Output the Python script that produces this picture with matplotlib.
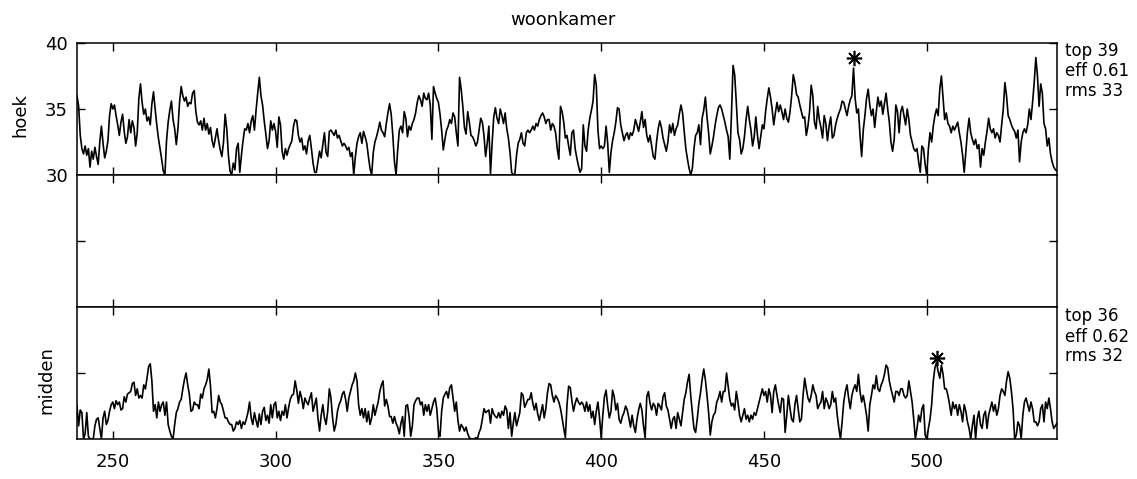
import matplotlib
matplotlib.use('Agg')
import matplotlib.pyplot as plt
import numpy as np

plt.rcParams['font.family'] = ['DejaVu Sans']

# ---------------- data ----------------
t_start = 239.0   # first sample position
t_step = 0.5      # sample spacing

hoek = [
    36.0, 35.2, 33.0, 32.0, 31.6, 32.2, 31.5, 32.0, 30.6, 31.8,
    31.2, 32.1, 31.4, 30.8, 32.5, 33.7, 32.4, 31.3, 31.8, 32.6,
    34.5, 35.4, 35.0, 35.3, 34.5, 33.8, 33.0, 34.0, 34.6, 33.3,
    32.4, 32.9, 34.2, 33.2, 34.1, 33.6, 32.2, 33.2, 35.8, 36.9,
    35.5, 34.6, 35.0, 34.1, 34.4, 33.8, 35.4, 36.3, 35.0, 33.8,
    32.8, 32.0, 31.2, 30.3, 30.0, 32.6, 34.0, 34.9, 35.6, 34.2,
    33.5, 32.3, 33.5, 35.5, 36.7, 36.0, 35.6, 35.9, 35.2, 35.5,
    35.4, 36.2, 36.4, 34.8, 34.0, 33.8, 34.1, 33.4, 34.3, 33.4,
    33.9, 33.1, 33.6, 32.6, 32.1, 32.8, 33.5, 32.6, 31.9, 31.4,
    32.5, 34.6, 33.5, 31.5, 30.3, 30.0, 30.9, 30.4, 32.0, 32.4,
    30.2, 31.5, 32.6, 33.5, 33.4, 33.9, 33.2, 34.1, 34.5, 33.4,
    34.9, 36.2, 37.4, 36.0, 35.3, 34.1, 33.1, 32.0, 32.6, 34.1,
    33.4, 33.9, 33.3, 32.1, 34.4, 33.8, 31.8, 31.2, 32.0, 31.5,
    32.0, 32.3, 32.6, 33.7, 34.2, 34.1, 33.0, 32.5, 32.8, 31.9,
    32.2, 31.6, 32.6, 33.0, 32.0, 30.9, 30.2, 30.2, 31.0, 31.8,
    31.3, 32.3, 33.2,
    31.7,
    31.4, 33.3, 33.4, 33.2, 33.0, 33.4, 32.8, 33.0, 32.6, 32.2,
    32.4, 32.2, 31.9, 32.1, 31.4, 31.7, 30.0, 31.4, 32.4, 32.9,
    33.2, 32.4, 33.3, 32.9, 32.4, 31.4, 30.5, 30.0, 31.7, 32.5,
    32.9, 33.4, 34.0, 33.4, 33.2, 32.9, 33.9, 34.7, 35.4, 34.6,
    33.0, 31.0, 30.0, 31.9, 33.4, 33.7, 33.2, 34.8, 34.3, 32.9,
    33.7, 33.4, 33.9, 34.2, 34.7, 35.5, 36.0, 35.7, 35.2, 36.2,
    35.8, 35.7, 36.2, 35.3, 32.7, 36.7, 36.2, 35.8, 35.5, 34.6,
    33.4, 31.9, 32.7, 33.4, 33.7, 34.2, 33.9, 34.7, 34.4, 33.2,
    32.2, 37.4, 36.5, 35.2, 33.6, 33.1, 34.8, 34.0, 33.0, 32.9,
    32.6, 32.2, 32.5, 33.4, 34.3, 34.0, 33.0, 31.4, 32.4, 33.7,
    30.1, 32.4, 34.4, 35.1, 34.3, 33.9, 35.0, 34.5, 33.9, 34.7,
    33.5, 32.8, 31.7, 30.2, 30.0, 30.1, 31.5, 32.4, 32.7, 33.2,
    32.4, 32.2, 33.2, 33.4, 33.2, 33.4, 33.7, 33.4, 33.9, 33.7,
    34.2, 34.5, 34.7, 34.4, 33.9, 34.2, 34.2, 33.4, 33.9, 33.7,
    33.2, 32.0, 31.2,
    35.2,
    34.8, 34.0, 32.8, 33.0, 32.2, 31.5, 33.2, 33.4, 32.0, 31.3,
    30.7, 30.2, 30.5, 33.8, 32.2, 31.8, 33.4, 34.3, 34.9, 35.6,
    37.6, 36.8, 33.4, 32.0, 32.2, 32.0, 32.2, 33.7, 32.4, 30.2,
    31.7, 32.6, 33.2, 34.0, 35.1, 35.0, 33.8, 33.2, 32.6, 33.0,
    33.2, 32.7, 33.2, 33.0, 33.4, 34.2, 33.8, 33.3, 34.0, 34.8,
    33.6, 34.2, 33.0, 32.5, 33.0, 32.2, 31.4, 31.2, 32.5, 33.5,
    34.1, 33.6, 32.8, 32.3, 31.8, 32.5, 33.8, 33.2, 33.9, 33.0,
    33.5, 33.8, 34.6, 35.3, 34.7, 33.3, 32.0, 31.2, 30.5, 30.0,
    30.5, 32.0, 33.0, 33.2, 33.8, 32.3, 34.3, 34.9, 35.9, 34.4,
    33.2, 31.6, 32.2, 32.9, 33.8, 34.5, 35.1, 35.3, 35.0, 34.5,
    34.0, 33.4, 32.9, 31.2, 34.5, 38.3, 37.6, 35.5, 33.2, 32.7,
    31.6, 32.0, 32.9, 34.2, 35.2, 34.2, 33.4, 32.2, 32.9, 34.4,
    33.0, 32.0, 32.9, 33.8, 33.5, 34.8, 35.8, 36.6, 35.9, 35.0,
    33.8, 34.7, 35.5, 34.8, 35.3, 34.8, 34.2, 35.0, 34.3, 34.0,
    34.8, 36.0, 37.6, 37.0, 36.1, 35.9, 35.3, 34.8, 34.3, 34.4,
    33.0, 33.7, 34.8, 36.8, 36.0, 34.0, 33.5, 35.2, 34.2, 33.6,
    32.8, 34.5, 33.9, 32.6, 33.7, 34.4, 32.8, 33.0, 33.8, 34.3,
    34.7, 35.0, 35.6, 35.5, 35.0, 34.5, 35.2, 35.7, 36.0, 38.1,
    35.8, 34.7, 35.0, 33.0, 31.4, 33.4, 34.5, 35.8, 36.5, 35.3,
    34.5, 35.0, 33.6, 34.8, 35.9, 35.2, 35.6, 34.6, 35.4, 36.2,
    35.0, 34.0, 32.5, 31.8, 32.7, 35.3, 34.8, 33.2, 34.8, 35.2,
    34.5, 33.8, 35.0, 34.2, 33.0, 32.5, 32.0, 31.8, 32.0, 31.0,
    30.2, 32.2, 32.0, 30.8, 30.0, 32.0, 33.2, 32.5, 33.7, 34.5,
    35.0, 34.5, 36.5, 37.5, 35.8, 34.2, 34.7, 33.9, 33.7, 33.2,
    33.7, 33.4, 33.7, 34.0, 33.2, 32.5, 31.5, 30.2, 31.7, 33.3,
    34.3, 33.2, 32.7, 32.3, 32.7, 32.0, 32.3, 30.6, 32.0, 31.5,
    32.5, 33.3, 34.3, 33.5, 33.2, 33.5, 32.8, 33.2, 33.0, 32.5,
    33.8, 35.0, 37.0, 36.0, 34.5, 34.2, 33.8, 33.5, 33.3, 32.8,
    33.4, 31.0, 32.5, 33.2, 33.5, 33.2, 33.8, 35.0, 34.2, 35.5,
    37.0, 38.9, 37.5, 35.2, 36.9, 36.2, 33.9, 33.5, 32.2, 32.8,
    31.6, 31.0, 30.6, 30.4, 30.3,
]

midden = [
    32.5, 31.0, 32.2, 32.0, 30.0, 30.4, 32.0, 30.2, 30.0, 30.0,
    30.0, 31.0, 31.5, 31.6, 30.8, 30.0, 31.6, 32.1, 31.1, 31.4,
    32.1, 32.6, 32.8, 32.3, 32.9, 32.6, 32.8, 32.2, 32.3, 33.2,
    32.8, 33.4, 33.5, 33.6, 34.2, 34.3, 33.3, 33.8, 33.1, 33.3,
    33.1, 34.1, 33.8, 34.6, 35.5, 35.7, 34.4, 32.1, 32.6, 31.6,
    32.8, 32.1, 32.6, 32.8, 31.8, 32.8, 31.1, 30.6, 30.2, 30.0,
    31.1, 32.0, 32.3, 32.8, 33.0, 33.8, 34.5, 35.0, 34.1, 33.4,
    32.1, 32.2, 32.8, 32.6, 32.6, 32.3, 33.4, 33.1, 33.8, 34.1,
    34.5, 35.3, 34.0, 32.0, 32.1, 31.6, 32.3, 33.3, 32.8, 32.6,
    32.1, 31.6, 31.6, 31.3, 31.1, 31.1, 30.6, 30.8, 31.3, 31.1,
    31.4, 30.8, 31.3, 31.1, 31.5, 32.0, 32.8, 31.6, 31.1, 32.0,
    31.4, 30.9, 31.9, 31.1, 32.1, 32.4, 31.4, 31.8, 31.2, 32.6,
    31.6, 32.6, 32.8, 31.6, 32.1, 31.4, 32.1, 31.8, 32.6, 31.6,
    32.4, 33.0, 33.3, 33.4, 34.4, 33.7, 32.7, 33.6, 33.1, 32.3,
    33.1, 32.8, 32.6, 33.1, 33.5, 32.1, 32.6, 33.1, 31.6, 30.6,
    31.8, 32.6, 31.6, 31.1, 32.1, 33.8, 33.1, 31.6, 30.6, 31.1,
    32.1, 32.6, 32.9, 33.4, 33.6, 33.0, 32.1, 33.1, 33.6, 34.1,
    34.4, 35.0, 34.4, 32.6, 31.8, 32.3, 31.6, 32.3, 31.3, 32.1,
    31.1, 31.6, 32.6, 31.8, 32.3, 32.8, 33.6, 34.1, 34.4,
    32.5,
    33.0, 32.5, 31.7, 31.7, 31.2, 31.7, 31.2, 30.9, 30.4, 31.2,
    31.7, 30.2, 32.5, 32.6, 31.7, 30.2, 31.0, 32.6, 32.9, 33.1,
    33.1, 32.6, 32.8, 31.8, 32.6, 32.1, 32.6, 31.8, 32.3, 32.8,
    33.1, 32.3, 30.6, 30.2, 32.1, 33.1, 33.4, 33.6, 33.1, 33.9,
    34.1, 33.1, 32.1, 32.8, 31.4, 30.6, 31.1, 30.9, 30.6, 30.9,
    30.4, 30.1, 30.0, 30.0, 30.0, 30.1, 30.0, 30.5, 30.8, 31.5,
    32.3, 32.0, 32.1, 32.2, 31.2, 32.3, 31.9, 31.7, 31.6, 32.0,
    31.6, 32.1, 31.8, 32.5, 32.2, 30.8, 32.0, 30.2, 31.2, 32.0,
    31.0, 31.5, 32.0, 33.5, 33.3, 32.4, 32.7, 33.0, 33.0, 33.5,
    32.7, 32.2, 32.7, 31.9, 31.4, 32.0, 32.6, 31.6, 32.3, 33.5,
    34.2, 34.1, 33.3, 32.8, 33.3, 33.1, 32.8, 32.3, 31.6, 30.8,
    30.1, 32.6, 34.0, 33.9, 32.9, 32.1, 32.7, 33.1, 32.8, 32.6,
    32.8, 32.6, 32.1, 32.8, 32.1, 32.6, 31.6, 32.1, 31.1, 32.1,
    32.8, 31.6, 30.1, 31.8, 33.2, 33.7, 32.5, 31.6, 32.1, 33.7,
    33.2, 32.2, 32.7, 31.5, 31.2, 31.7, 32.0, 32.5, 32.2, 31.6,
    30.9, 31.8, 31.0, 30.5, 31.5, 32.2, 32.7, 32.2, 31.0, 30.1,
    33.2, 33.6, 32.7, 32.2, 32.7, 32.5, 31.8, 32.7, 32.5, 32.2,
    33.2, 33.5, 32.5, 32.2, 31.5, 30.8, 31.5, 31.7, 30.8, 32.0,
    31.5, 31.0, 32.0, 33.0, 33.5, 34.3, 34.9, 33.3, 32.0, 30.8,
    30.5, 31.5, 32.7, 33.5, 34.5, 35.3, 34.5, 33.3, 32.0, 30.3,
    31.3, 31.8, 32.0, 32.8, 33.1, 33.6, 32.8, 33.6, 33.6, 35.0,
    34.0, 33.0, 32.5, 32.7, 32.2, 33.6, 32.8, 31.8, 31.3, 31.8,
    32.3, 31.5, 31.8,
    31.3,
    31.8, 31.5, 32.0, 31.8, 32.3, 32.8, 33.3, 33.8, 33.3, 33.6,
    32.8, 33.8, 33.3, 32.0, 33.6, 34.1, 33.3, 32.6, 32.0, 33.1,
    33.0, 30.5, 31.8, 33.3, 32.3, 31.5, 31.3, 32.6, 33.3, 32.3,
    31.3, 31.5, 33.3, 34.6, 33.8, 33.1, 32.8, 33.3, 34.1, 33.6,
    33.3, 32.3, 32.6, 32.8, 33.6, 32.3, 33.1, 32.8, 32.3, 32.6,
    33.6, 32.8, 33.1, 31.8, 30.8, 30.0, 31.3, 32.8, 33.6, 34.1,
    33.1, 32.3, 33.3, 33.8, 34.1, 33.6, 34.9, 33.6, 32.8, 33.3,
    32.6, 31.8, 30.6, 32.6, 33.3, 34.1, 33.8, 34.8, 33.8, 33.6,
    34.1, 34.4, 34.9, 35.6, 35.4, 34.4, 33.8, 33.3, 32.8, 33.6,
    33.6, 33.3, 33.8, 33.8, 33.3, 33.1, 33.3, 34.4, 33.6, 32.8,
    31.5, 30.0, 30.8, 31.8, 31.3, 32.3, 32.6, 30.3, 30.0, 30.8,
    31.5, 32.6, 34.4, 35.4, 35.8, 35.1, 34.6, 35.6, 34.9, 33.8,
    33.8, 33.3, 32.6, 31.8, 32.8, 32.3, 32.6, 31.8, 32.6, 32.1,
    31.3, 32.6, 32.1, 31.3, 30.8, 30.0, 31.0, 31.8, 30.0, 31.5,
    32.1, 31.1, 30.8, 31.8, 32.1, 30.8, 31.8, 32.3, 32.8, 32.1,
    32.6, 31.8, 32.3, 33.3, 33.8, 33.6, 33.3, 34.4, 35.1, 34.6,
    33.6, 32.3, 30.0, 30.3, 31.3, 31.0, 30.0, 31.8, 32.8, 33.1,
    32.6, 32.1, 32.8, 32.3, 31.3, 31.3, 31.0, 31.3, 32.3, 32.6,
    31.3, 32.8, 32.3, 33.1, 32.3, 31.3, 30.8, 31.0, 31.2,
]

top_marker_hoek = (477.5, 38.9)
top_marker_midden = (503.0, 36.1)
stats_hoek = ['top 39', 'eff 0.61', 'rms 33']
stats_midden = ['top 36', 'eff 0.62', 'rms 32']

x_ticks = [250, 300, 350, 400, 450, 500]
x_limits = (239, 540)

# ---------------- figure ----------------
W_PX, H_PX = 1137, 479
fig = plt.figure(figsize=(W_PX / 100, H_PX / 100), dpi=100)

left = 77 / W_PX
width = 980 / W_PX
height = 132 / H_PX
ax1 = fig.add_axes([left, 1 - 175 / H_PX, width, height])
ax2 = fig.add_axes([left, 1 - 307 / H_PX, width, height])
ax3 = fig.add_axes([left, 1 - 439 / H_PX, width, height])

for ax in (ax1, ax2, ax3):
    ax.set_xlim(*x_limits)
    ax.set_xticks(x_ticks)
    ax.tick_params(direction='in', length=6, width=1.0, top=True, right=True,
                   labelsize=13, colors='black')
    ax.tick_params(axis='y', pad=6.5)
    ax.tick_params(axis='x', pad=10)
    for sp in ax.spines.values():
        sp.set_linewidth(1.1)
        sp.set_color('black')
    ax.set_facecolor('white')

xh = t_start + t_step * np.arange(len(hoek))
xm = t_start + t_step * np.arange(len(midden))

ax1.plot(xh, hoek, color='black', lw=1.2)
ax1.set_ylim(30, 40)
ax1.set_yticks([30, 35, 40])
ax1.tick_params(labelbottom=False)
ax1.plot(*top_marker_hoek, marker=(8, 2, 0), ms=11, mew=1.2, color='black',
         clip_on=False)

ax2.set_ylim(20, 30)
ax2.set_yticks([25])
ax2.tick_params(labelbottom=False, labelleft=False)

ax3.plot(xm, midden, color='black', lw=1.2)
ax3.set_ylim(30, 40)
ax3.set_yticks([35])
ax3.tick_params(labelleft=False)
ax3.plot(*top_marker_midden, marker=(8, 2, 0), ms=11, mew=1.2, color='black',
         clip_on=False)

# titles / labels
fig.text(563 / W_PX, 1 - 20 / H_PX, 'woonkamer', ha='center', va='center',
         fontsize=13)
fig.text(20 / W_PX, 1 - 115 / H_PX, 'hoek', rotation=90, ha='center',
         va='center', fontsize=13)
fig.text(46 / W_PX, 1 - 380 / H_PX, 'midden', rotation=90, ha='center',
         va='center', fontsize=13)

for s, yy in zip(stats_hoek, [51, 71, 91]):
    fig.text(1065 / W_PX, 1 - yy / H_PX, s, ha='left', va='center', fontsize=12)
for s, yy in zip(stats_midden, [316, 337, 356]):
    fig.text(1065 / W_PX, 1 - yy / H_PX, s, ha='left', va='center', fontsize=12)

fig.savefig('out.png', dpi=100, facecolor='white')
